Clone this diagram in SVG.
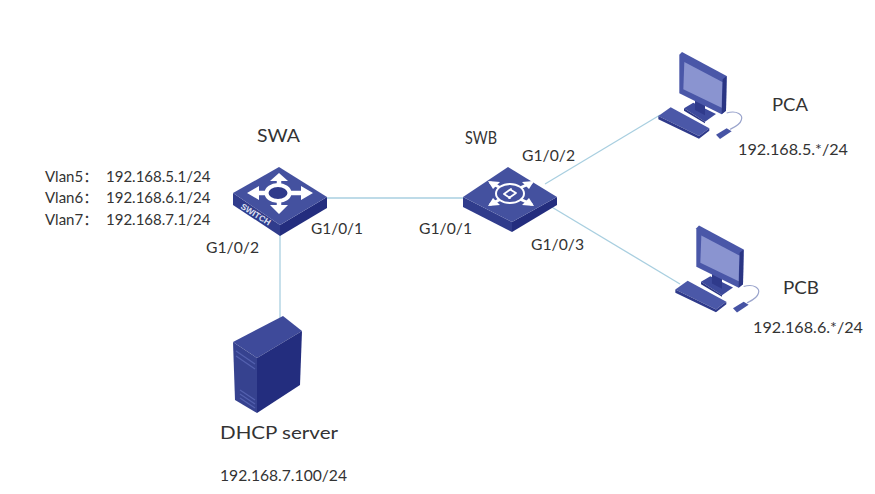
<svg xmlns="http://www.w3.org/2000/svg" width="875" height="494" viewBox="0 0 875 494">
<style>
text{font-family:Lato,"Liberation Sans","Noto Sans CJK SC",sans-serif;fill:#333}
.s{font-size:15.500px}
.n{font-size:18px}
.i{font-size:15px}
.l{stroke:#a9cfe0;stroke-width:1.300;fill:none}
.top{fill:#44519f}
.ld{fill:#303c8c}
.rd{fill:#232d7e}
.wh{fill:none;stroke:#fff;stroke-linecap:round;stroke-linejoin:round}
</style>
<defs>
<g id="pc" transform="scale(0.3333)">
<path d="M102 205L130 188L198 222L165 245Z" fill="#3d4a9c"/>
<path d="M102 205L165 245L165 250L102 212Z" fill="#2a3583"/>
<path d="M135 175L165 190L165 226L135 210Z" fill="#2f3a8b"/>
<path d="M88 44L96 36L230 108L228 212L215 223L88 160Z" fill="#4a57a8"/>
<path d="M218 118L230 108L228 212L215 223Z" fill="#2a3583"/>
<path d="M103 66L217 126L215 203L100 148Z" fill="#8a94d0"/>
<path d="M25 228L62 202L178 265L147 288Z" fill="#4b58a8"/>
<path d="M25 228L147 288L178 265L178 272L147 296L25 238Z" fill="#2f3a8b"/>
<path d="M230 219C262 210 280 225 274 240C270 255 252 262 240 268" fill="none" stroke="#9aa4cc" stroke-width="3.500"/>
<path d="M198 284L230 265L245 274L210 297Z" fill="#4653a4"/>
</g>
</defs>
<rect width="875" height="494" fill="#fff"/>
<g id="connectors">
<path class="l" d="M326 198H463"/>
<path class="l" d="M280 235V318"/>
<path class="l" d="M545 184L660 115"/>
<path class="l" d="M550 206L680 284"/>
</g>
<g id="SWA">
<path class="ld" d="M233 193L280 225V236L233 205Z"/>
<path class="rd" d="M280 225L327 197V208L280 236Z"/>
<path class="top" d="M279 167L327 197L280 225L233 193Z"/>
<ellipse cx="278" cy="193" rx="11.500" ry="8" fill="#2f3a8b" stroke="#fff" stroke-width="4"/>
<path class="wh" stroke-width="4.500" d="M279 184V178M266 193H254M291 193H305M279 202V208"/>
<path fill="#fff" d="M279 173L270 181H288ZM247 193L259 186V200ZM313 193L301 186V200ZM279 214L270 205H288Z"/>
<text x="0" y="0" transform="translate(240 208) rotate(32)" style="font-family:'Liberation Sans',sans-serif;font-size:8.500px;font-weight:bold;fill:#dfe2f2">SWITCH</text>
<text class="n" x="257" y="142" textLength="43" lengthAdjust="spacingAndGlyphs">SWA</text>
</g>
<g id="SWB">
<path class="ld" d="M463 197L512 222V232L463 207Z"/>
<path class="rd" d="M512 222L557 197V205L512 232Z"/>
<path class="top" d="M508 167L557 197L512 222L463 197Z"/>
<path class="wh" stroke-width="3" d="M499 187L491 183M522 187L531 183M499 200L491 204M522 200L531 204"/>
<path fill="#fff" d="M488 181L500 182L493 189ZM534 181L522 182L529 189ZM488 206L500 205L493 198ZM534 206L522 205L529 198Z"/>
<ellipse cx="510" cy="193.500" rx="14" ry="9.500" fill="#44519f" stroke="#fff" stroke-width="2"/>
<path class="wh" stroke-width="1.800" d="M511 189L504 194L510 198M509 198L516 193L511 190"/>
<text class="n" x="465" y="144" textLength="32" lengthAdjust="spacingAndGlyphs">SWB</text>
</g>
<g id="PCA">
<use href="#pc" transform="translate(650 40)"/>
<text class="n" x="772" y="111" textLength="36" lengthAdjust="spacingAndGlyphs">PCA</text>
<text class="i" x="738" y="155" textLength="110" lengthAdjust="spacingAndGlyphs">192.168.5.*/24</text>
</g>
<g id="PCB">
<use href="#pc" transform="translate(667 213.500)"/>
<text class="n" x="783" y="294" textLength="36" lengthAdjust="spacingAndGlyphs">PCB</text>
<text class="i" x="753" y="333" textLength="110" lengthAdjust="spacingAndGlyphs">192.168.6.*/24</text>
</g>
<g id="DHCP">
<path d="M233 342L283 316L302 331L257 358Z" fill="#3e4a9a"/>
<path d="M233 342L257 358V413L235 400Z" fill="#36428f"/>
<path d="M257 358L302 331L300 385L257 413Z" fill="#232d7e"/>
<path d="M236 351L255 364M236 356L255 369M240 390L255 400M240 394L255 404M240 398L255 408" stroke="#5360ae" stroke-width="1.300" fill="none"/>
<text class="n" x="220" y="439" textLength="118" lengthAdjust="spacingAndGlyphs">DHCP server</text>
<text class="i" x="220" y="481" textLength="127" lengthAdjust="spacingAndGlyphs">192.168.7.100/24</text>
</g>
<g id="labels">
<text class="i" x="45" y="182">Vlan5：<tspan x="106">192.168.5.1/24</tspan></text>
<text class="i" x="45" y="203">Vlan6：<tspan x="106">192.168.6.1/24</tspan></text>
<text class="i" x="45" y="225">Vlan7：<tspan x="106">192.168.7.1/24</tspan></text>
<text class="s" x="311" y="234" textLength="52" lengthAdjust="spacingAndGlyphs">G1/0/1</text>
<text class="s" x="206" y="253" textLength="53" lengthAdjust="spacingAndGlyphs">G1/0/2</text>
<text class="s" x="419" y="234" textLength="53" lengthAdjust="spacingAndGlyphs">G1/0/1</text>
<text class="s" x="522" y="161" textLength="53" lengthAdjust="spacingAndGlyphs">G1/0/2</text>
<text class="s" x="531" y="250" textLength="53" lengthAdjust="spacingAndGlyphs">G1/0/3</text>
</g>
</svg>
